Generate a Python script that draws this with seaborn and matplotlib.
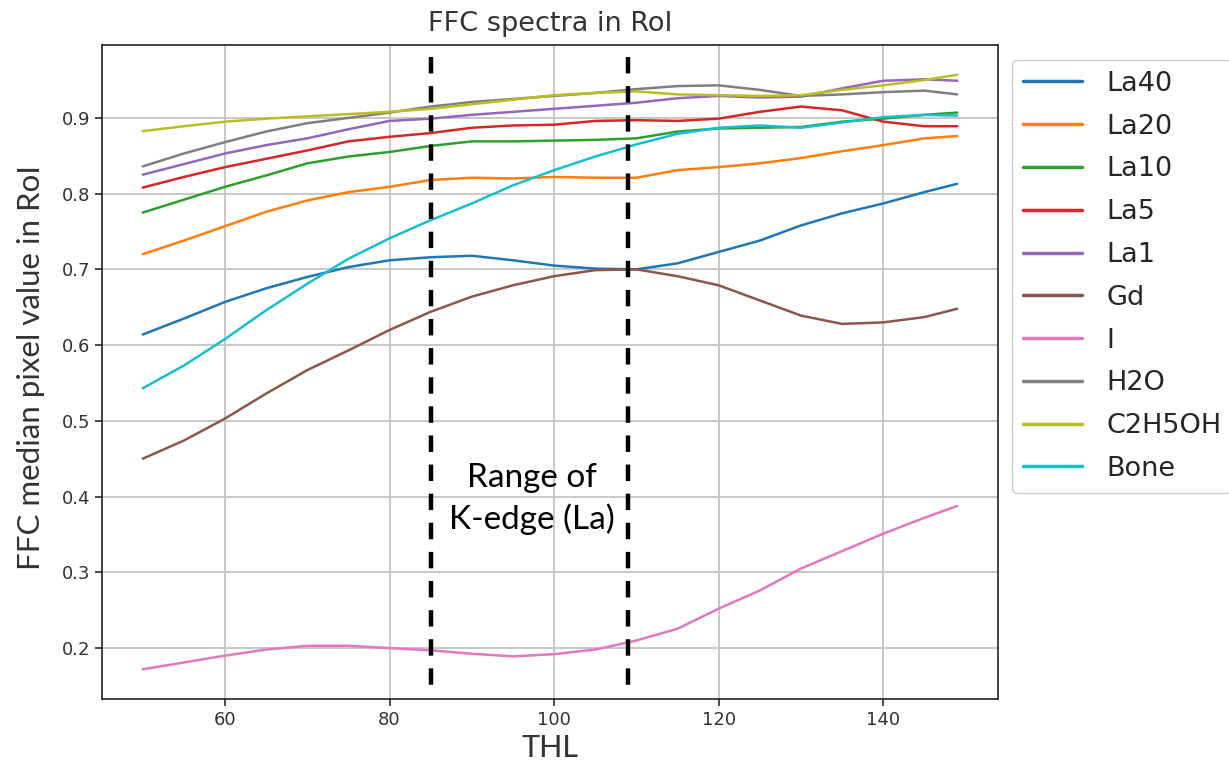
import numpy as np
import pandas as pd
import matplotlib
matplotlib.use("Agg")
import matplotlib.pyplot as plt
import seaborn as sns

thl = [50, 55, 60, 65, 70, 75, 80, 85, 90, 95, 100, 105, 110, 115, 120, 125, 130, 135, 140, 145, 149]

la40 = [.614, .635, .657, .675, .690, .703, .712, .716, .718, .712, .705, .701, .700, .708, .723, .738, .758, .774, .787, .802, .813]
la20 = [.720, .738, .757, .776, .791, .802, .809, .818, .821, .820, .822, .821, .821, .831, .835, .840, .847, .856, .864, .873, .876]
la10 = [.775, .792, .809, .824, .840, .849, .855, .863, .869, .869, .870, .871, .873, .882, .886, .887, .888, .895, .899, .904, .907]
la5 = [.808, .822, .835, .846, .857, .869, .875, .880, .887, .890, .891, .896, .897, .896, .899, .908, .915, .910, .895, .889, .889]
la1 = [.825, .839, .853, .864, .873, .885, .896, .899, .904, .908, .912, .916, .920, .926, .929, .927, .928, .939, .949, .951, .949]
gd = [.450, .474, .503, .536, .567, .593, .620, .644, .664, .679, .691, .699, .700, .691, .679, .659, .639, .628, .630, .637, .648]
iod = [.172, .181, .190, .198, .203, .203, .200, .197, .1925, .189, .192, .198, .210, .2255, .252, .276, .305, .328, .351, .372, .3876]
h2o = [.836, .853, .868, .882, .893, .900, .907, .915, .921, .925, .929, .933, .938, .942, .943, .937, .929, .931, .934, .936, .931]
c2h5oh = [.8825, .889, .895, .899, .902, .905, .908, .912, .918, .924, .930, .933, .935, .931, .930, .929, .930, .937, .943, .950, .957]
bone = [.543, .573, .608, .646, .681, .714, .741, .765, .787, .811, .831, .849, .865, .879, .887, .890, .887, .894, .901, .904, .903]

series_names = ["La40", "La20", "La10", "La5", "La1", "Gd", "I", "H2O", "C2H5OH", "Bone"]
series_values = [la40, la20, la10, la5, la1, gd, iod, h2o, c2h5oh, bone]

kedge_lo, kedge_hi = 85, 109

rows = []
for name, vals in zip(series_names, series_values):
    for x, y in zip(thl, vals):
        rows.append({"THL": x, "value": y, "sample": name})
df = pd.DataFrame(rows)

sns.set_theme(style="ticks")
plt.rcParams["font.family"] = ["DejaVu Sans"]

fig = plt.figure(figsize=(12.29, 7.66), dpi=100)
ax = fig.add_axes([102 / 1229, 1 - 699 / 766, 896 / 1229, 654 / 766])

sns.lineplot(data=df, x="THL", y="value", hue="sample", hue_order=series_names,
             palette=sns.color_palette("tab10", 10), estimator=None, linewidth=1.8,
             ax=ax, legend=True)

# autoscaled limits with default 5% margins on the data
xmin, xmax = min(thl), max(thl)
ymin = min(min(v) for v in series_values)
ymax = max(max(v) for v in series_values)
ax.set_xlim(xmin - 0.05 * (xmax - xmin), xmax + 0.05 * (xmax - xmin))
ax.set_ylim(ymin - 0.05 * (ymax - ymin), ymax + 0.05 * (ymax - ymin))

ax.grid(True, color="#c4c4c4", linewidth=1.3)
ax.set_axisbelow(True)

for xv in (kedge_lo, kedge_hi):
    ax.plot([xv, xv], [0.981, 0.150], color="black", linewidth=3.2,
            dashes=(3.7, 2.85), zorder=5)

ax.text(97.3, 0.397, "Range of\nK-edge (La)", fontsize=24, family="Lato",
        ha="center", va="center", color="black", linespacing=1.4)

ax.set_xticks([60, 80, 100, 120, 140])
ax.set_yticks([0.2, 0.3, 0.4, 0.5, 0.6, 0.7, 0.8, 0.9])
ax.tick_params(labelsize=13, length=5, colors="#333333", labelcolor="#333333")
for s in ax.spines.values():
    s.set_color("#222222")
    s.set_linewidth(1.2)

ax.set_xlabel("")
ax.set_ylabel("")
ax.set_title("FFC spectra in RoI", fontsize=19.5, color="#333333", pad=10)

fig.text(550 / 1229, 1 - 748 / 766, "THL", fontsize=22, family="Lato",
         ha="center", va="center", color="#333333")
fig.text(31 / 1229, 1 - 368 / 766, "FFC median pixel value in RoI", fontsize=22.5,
         family="Lato", rotation=90, ha="center", va="center", color="#333333")

handles, labels = ax.get_legend_handles_labels()
if ax.get_legend() is not None:
    ax.get_legend().remove()
leg = ax.legend(handles, labels, loc="upper left",
                bbox_to_anchor=(1012 / 1229, 1 - 60 / 766),
                bbox_transform=fig.transFigure, borderaxespad=0,
                fontsize=19.5, handlelength=2.2, handletextpad=0.9,
                labelspacing=0.62, frameon=True, fancybox=True,
                edgecolor="#cccccc", framealpha=1.0)
for line in leg.get_lines():
    line.set_linewidth(2.5)

fig.savefig("out.png", dpi=100)
